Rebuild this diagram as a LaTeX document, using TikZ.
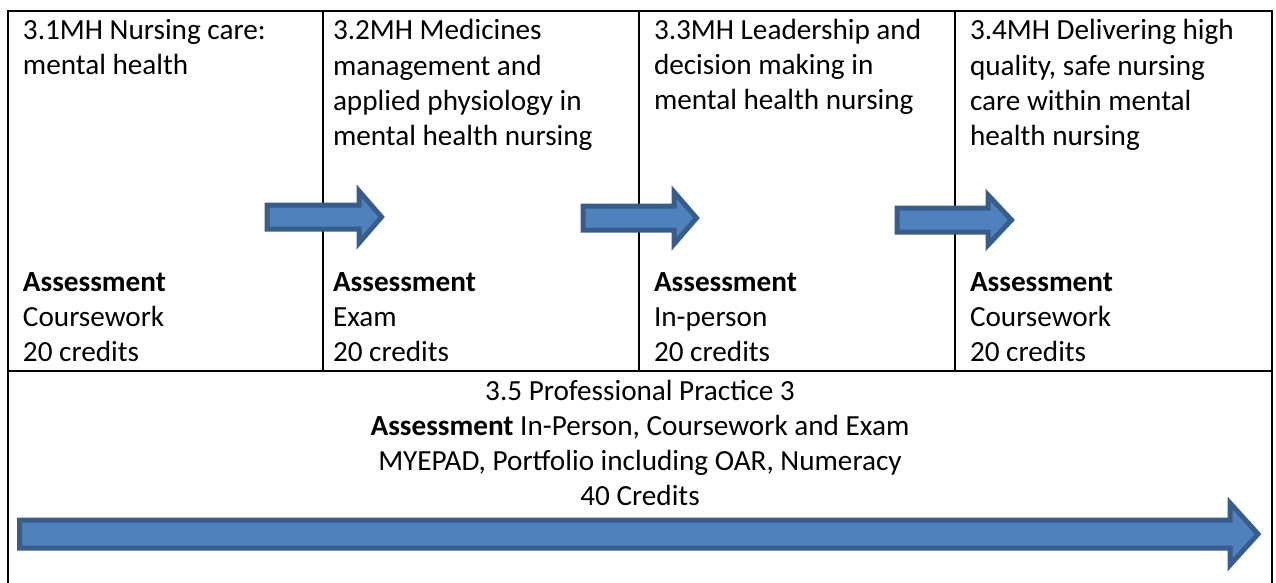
\documentclass[tikz,border=0pt]{standalone}
\usepackage{fontspec}
\setmainfont{Carlito}
\definecolor{arrowfill}{HTML}{4F81BD}
\definecolor{arrowedge}{HTML}{385D8A}
\newcommand\toplinestrut{\rule{0pt}{24pt}}
\newcommand\blockarr[7]{%
  \draw[blockarrow] (#2,#4-#5) -- (#3,#4-#5) -- (#3,#4-#6) -- (#7,#4) -- (#3,#4+#6) -- (#3,#4+#5) -- (#2,#4+#5) -- cycle;
  \coordinate (#1) at (#7,#4);}
\begin{document}
\begin{tikzpicture}[x=1pt,y=-1pt,
  gridline/.style={line width=2.5pt, black, line cap=rect},
  blockarrow/.style={fill=arrowfill, draw=arrowedge, line width=5pt, line join=miter},
  txt/.style={inner sep=0pt, outer sep=0pt, align=left, anchor=north west, font=\fontsize{29.2}{35}\selectfont},
  ctxt/.style={inner sep=0pt, outer sep=0pt, align=center, anchor=north, font=\fontsize{29.2}{35}\selectfont}]
\useasboundingbox (0,0) rectangle (1276,583);
% table grid
\coordinate (tl) at (8,11);
\coordinate (tr) at (1272,11);
\coordinate (bl) at (8,583);
\coordinate (br) at (1272,583);
\draw[gridline] (bl) -- (tl) -- (tr) -- (br);
\draw[gridline] (8,371) -- (1272,371);
\draw[gridline] (323,11) -- (323,371);
\draw[gridline] (639,11) -- (639,371);
\draw[gridline] (955,11) -- (955,371);
% top texts (first baseline at y=40)
\node[txt] (t1) at (23,16) {\toplinestrut 3.1MH Nursing care:\\mental health};
\node[txt] (t2) at (333,16) {\toplinestrut 3.2MH Medicines\\management and\\applied physiology in\\mental health nursing};
\node[txt] (t3) at (654,16) {\toplinestrut 3.3MH Leadership and\\decision making in\\mental health nursing};
\node[txt] (t4) at (970,16) {\toplinestrut 3.4MH Delivering high\\quality, safe nursing\\care within mental\\health nursing};
% assessment texts (first baseline at y=291)
\node[txt] (a1) at (23,267) {\toplinestrut\textbf{Assessment}\\Coursework\\20 credits};
\node[txt] (a2) at (333,267) {\toplinestrut\textbf{Assessment}\\Exam\\20 credits};
\node[txt] (a3) at (654,267) {\toplinestrut\textbf{Assessment}\\In-person\\20 credits};
\node[txt] (a4) at (970,267) {\toplinestrut\textbf{Assessment}\\Coursework\\20 credits};
% bottom text (first baseline at y=400)
\node[ctxt] (p5) at (640,376) {\toplinestrut 3.5 Professional Practice 3\\\textbf{Assessment} In-Person, Coursework and Exam\\MYEPAD, Portfolio including OAR, Numeracy\\40 Credits};
% arrows
\blockarr{ar1}{267}{359}{217}{12}{26}{381.5}
\blockarr{ar2}{583}{674}{218}{12}{26}{696.5}
\blockarr{ar3}{897}{988}{220}{12}{25}{1011.5}
\blockarr{ar5}{19.5}{1230}{534}{14}{31}{1258}
\end{tikzpicture}
\end{document}
